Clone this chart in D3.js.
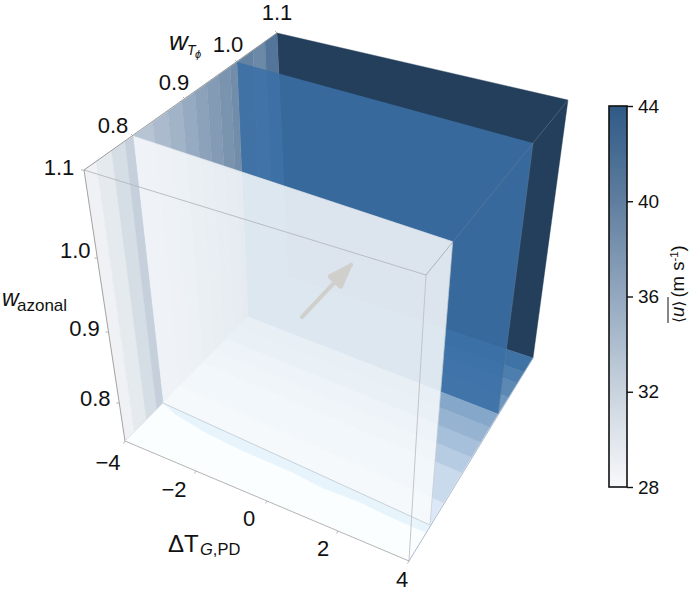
<!DOCTYPE html>
<html>
<head>
<meta charset="utf-8">
<script src="https://cdn.jsdelivr.net/npm/d3@7"></script>
<style>
    body { margin: 0; background: #fff; }
    svg { display: block; }
    text { font-family: "Liberation Sans", Arial, sans-serif; fill: #111; }
</style>
</head>
<body>
<div id="chart"></div>
<script>
// ticks
const xTicks = [-4, -2, 0, 2, 4];
const wTicks = [0.8, 0.9, 1.0, 1.1];
const zTicks = [0.8, 0.9, 1.0, 1.1];
const cbTicks = [28, 32, 36, 40, 44];

// plot box limits
const xDomain = [-4, 4];
const wDomain = [0.727, 1.1];
const zDomain = [0.75, 1.1];

// slices at constant w_Tphi: position and mean wind
const slabW = [1.1, 1.0, 0.8];
const slabU = [44, 41, 28];

// wall (x = -4), bands between slices: band edges in w_Tphi and mean wind
const wallEdgesBack = [1.0, 1.04, 1.07, 1.1];
const wallUBack = [39.6, 39.0, 41.0];
const wallEdgesMid = [0.8, 0.838, 0.867, 0.894, 0.919, 0.942, 0.965, 0.987, 1.0];
const wallUMid = [33.4, 34.2, 35.0, 35.8, 36.6, 37.2, 37.9, 38.6];
const wallEdgesFront = [0.727, 0.745, 0.768, 0.788, 0.8];
const wallUFront = [28.8, 29.6, 31.0, 32.3];

// floor (lowest w_azonal), same idea
const floorEdgesBack = [1.0, 1.03, 1.055, 1.075, 1.1];
const floorUBack = [37.8, 39.0, 40.0, 41.0];
const floorEdgesMid = [0.8, 0.84, 0.894, 0.922, 0.949, 0.976, 1.0];
const floorUMid = [30.3, 31.6, 32.9, 34.0, 35.1, 36.2];
const floorUFront = 28.1;

// pale wavy stripe on the floor just in front of the 0.8 slice
const stripeX = [-4, -3.5, -2.5, -1.5, 0, 1, 2, 3, 4];
const stripeW = [0.8, 0.792, 0.786, 0.784, 0.785, 0.782, 0.786, 0.784, 0.785];
const stripeU = 29;

// mean wind vector on the 0.8 slice (tail, tip)
const arrowX = [0.2, 1.49];
const arrowZ = [0.952, 1.038];

// box geometry as drawn on the page: corners of each w_Tphi section, and how
// the w_azonal axis is spaced up the left edge (0 floor, 1 top)
const sectionW = [0.727, 0.8, 1.0, 1.1];
const cornerTopLeft = [[84, 170], [133, 136], [237, 62], [277, 33]];
const cornerTopRight = [[426, 275], [452.7, 241.7], [533, 143], [568, 100]];
const cornerFloorLeft = [[125, 441], [163, 403], [248, 317], [288, 277]];
const cornerFloorRight = [[409, 561], [430, 525], [498, 414], [533, 358]];
const zStops = [0.75, 0.8, 0.9, 1.0, 1.1];
const zFractions = [0, 0.14, 0.402, 0.675, 1];

const width = 692;
const height = 592;

const xScale = d3.scaleLinear().domain(xDomain).range([0, 1]);
const zScale = d3.scaleLinear().domain(zStops).range(zFractions);
const topLeft = d3.scaleLinear().domain(sectionW).range(cornerTopLeft);
const topRight = d3.scaleLinear().domain(sectionW).range(cornerTopRight);
const floorLeft = d3.scaleLinear().domain(sectionW).range(cornerFloorLeft);
const floorRight = d3.scaleLinear().domain(sectionW).range(cornerFloorRight);

// colours, the box faces are lit differently so each has its own ramp
const cbColor = d3.scaleLinear().domain(cbTicks).range(["#f8f9fb", "#c9d3de", "#93a8bf", "#5f7e9f", "#2f5a86"]);
const floorColor = d3.scaleLinear().domain([28, 29, 30.3, 41]).range(["#fdffff", "#e8f4fc", "#dce8f7", "#3f73a5"]);
const slabColor = d3.scaleLinear().domain([28, 41, 44]).range(["#f9fbfd", "#3a70a6", "#233f5b"]);

function project(x, w, z) {
    const u = xScale(x), v = zScale(z);
    const tl = topLeft(w), tr = topRight(w), fl = floorLeft(w), fr = floorRight(w);
    return [0, 1].map(function(k) {
        const lower = fl[k] + (fr[k] - fl[k]) * u;
        const upper = tl[k] + (tr[k] - tl[k]) * u;
        return lower + (upper - lower) * v;
    });
}

const svg = d3.select("#chart").append("svg").attr("width", width).attr("height", height);
const plot = svg.append("g");
const line = d3.line();
const closed = function(pts) { return line(pts) + "Z"; };

const [x0, x1] = xDomain;
const [w0, w1] = wDomain;
const [z0, z1] = zDomain;

function face(pts, fill, opacity) {
    const p = plot.append("path").attr("d", closed(pts)).attr("fill", fill);
    if (opacity !== undefined) {
        p.attr("fill-opacity", opacity);
    } else {
        // hides the seams between neighbouring bands
        p.attr("stroke", fill).attr("stroke-width", 0.4);
    }
}

function wall_bands(edges, values) {
    values.forEach(function(u, i) {
        face([project(x0, edges[i], z0), project(x0, edges[i + 1], z0),
              project(x0, edges[i + 1], z1), project(x0, edges[i], z1)], cbColor(u));
    });
}

function floor_bands(edges, values) {
    values.forEach(function(u, i) {
        face([project(x0, edges[i], z0), project(x0, edges[i + 1], z0),
              project(x1, edges[i + 1], z0), project(x1, edges[i], z0)], floorColor(u));
    });
}

function slab(w, u, opacity) {
    face([project(x0, w, z0), project(x1, w, z0), project(x1, w, z1), project(x0, w, z1)], slabColor(u), opacity);
}

function edge(a, b, color, sw) {
    plot.append("path").attr("d", line([a, b])).attr("fill", "none")
        .attr("stroke", color).attr("stroke-width", sw);
}

// back to front
slab(slabW[0], slabU[0]);
wall_bands(wallEdgesBack, wallUBack);
floor_bands(floorEdgesBack, floorUBack);
slab(slabW[1], slabU[1], 0.86);
wall_bands(wallEdgesMid, wallUMid);
floor_bands(floorEdgesMid, floorUMid);
edge(project(x1, slabW[1], z0), project(x1, slabW[1], z1), "#5b7a99", 0.6);
slab(slabW[2], slabU[2], 0.85);
wall_bands(wallEdgesFront, wallUFront);
floor_bands([w0, slabW[2]], [floorUFront]);

// stripe in front of the 0.8 slice
const stripeLow = stripeX.map(function(x, i) { return project(x, stripeW[i], z0); });
const stripeHigh = stripeX.map(function(x) { return project(x, slabW[2], z0); }).reverse();
face(stripeLow.concat(stripeHigh), floorColor(stripeU));

// slice outlines
edge(project(x0, slabW[2], z0), project(x1, slabW[2], z0), "#b9c2ca", 0.7);
edge(project(x1, slabW[2], z0), project(x1, slabW[2], z1), "#c4c9ce", 0.7);
edge(project(x0, slabW[2], z1), project(x1, slabW[2], z1), "#e6e9ec", 0.7);

// box
edge(project(x0, w0, z1), project(x0, w1, z1), "#8f8f8f", 0.9);
edge(project(x0, w0, z1), project(x1, w0, z1), "#b4b8bc", 0.9);
edge(project(x0, w0, z1), project(x0, w0, z0), "#9a9a9a", 0.9);
edge(project(x0, w0, z0), project(x1, w0, z0), "#ababab", 0.9);
edge(project(x1, w0, z0), project(x1, w0, z1), "#c0c0c0", 0.9);
edge(project(x1, w0, z0), project(x1, w1, z0), "#9fb3c8", 0.9);
edge(project(x1, w0, z1), project(x1, w1, z1), "#6f8298", 0.5);
edge(project(x0, w0, z0), project(x0, slabW[2], z0), "#d5d9dd", 0.7);

// ticks on the labelled edges
xTicks.forEach(function(x) {
    const p = project(x, w0, z0);
    edge(p, [p[0] - 1.5, p[1] + 2.5], "#9a9a9a", 0.7);
});
zTicks.forEach(function(z) {
    const p = project(x0, w0, z);
    edge(p, [p[0] - 3, p[1]], "#9a9a9a", 0.7);
});
wTicks.forEach(function(w) {
    const p = project(x0, w, z1);
    edge(p, [p[0] - 2, p[1] - 2], "#9a9a9a", 0.7);
});

// arrow
const tail = project(arrowX[0], slabW[2], arrowZ[0]);
const tip = project(arrowX[1], slabW[2], arrowZ[1]);
const arrowLen = Math.hypot(tip[0] - tail[0], tip[1] - tail[1]);
const ux = (tip[0] - tail[0]) / arrowLen;
const uy = (tip[1] - tail[1]) / arrowLen;
const headLen = 23;
const headHalf = 7;
const base = [tip[0] - ux * headLen, tip[1] - uy * headLen];
plot.append("path").attr("d", line([tail, tip])).attr("fill", "none")
    .attr("stroke", "#d0cfcc").attr("stroke-width", 4).attr("stroke-linecap", "round");
plot.append("path")
    .attr("d", closed([[tip[0] - ux * 3, tip[1] - uy * 3],
        [base[0] - uy * headHalf, base[1] + ux * headHalf],
        [base[0] + uy * headHalf, base[1] - ux * headHalf]]))
    .attr("fill", "#d0cfcc").attr("stroke", "#d0cfcc")
    .attr("stroke-width", 5).attr("stroke-linejoin", "round");

// tick labels, placed off the box edges
const tickSize = 22;
function tick_label(p, dx, dy, label) {
    svg.append("text").attr("x", p[0] + dx).attr("y", p[1] + dy)
        .attr("text-anchor", "middle").attr("dy", "0.36em")
        .style("font-size", tickSize + "px").text(label);
}
const minus = function(v) { return d3.format("d")(v).replace("-", "\u2212"); };
const xDx = d3.scaleLinear().domain(xTicks).range([-17, -22, -18, -15, -7]);
const xDy = d3.scaleLinear().domain(xTicks).range([21, 18, 17, 17, 18]);
const wDx = d3.scaleLinear().domain(wTicks).range([-20, -11, -9, 0]);
const wDy = d3.scaleLinear().domain(wTicks).range([-11, -17, -18, -21]);
const zDx = d3.scaleLinear().domain(zTicks).range([-24, -24, -22, -25]);
const zDy = d3.scaleLinear().domain(zTicks).range([-5, -4, -8, -3]);
xTicks.forEach(function(x) { tick_label(project(x, w0, z0), xDx(x), xDy(x), minus(x)); });
wTicks.forEach(function(w) { tick_label(project(x0, w, z1), wDx(w), wDy(w), d3.format(".1f")(w)); });
zTicks.forEach(function(z) { tick_label(project(x0, w0, z), zDx(z), zDy(z), d3.format(".1f")(z)); });

// axis titles
const wTitle = svg.append("g");
wTitle.append("text").attr("x", 169).attr("y", 50).style("font-size", "26px").style("font-style", "italic").text("w");
wTitle.append("text").attr("x", 187).attr("y", 55).style("font-size", "14px").style("font-style", "italic").text("T");
wTitle.append("text").attr("x", 195).attr("y", 58).style("font-size", "11px").style("font-style", "italic").text("\u03d5");

const zTitle = svg.append("g");
zTitle.append("text").attr("x", 2).attr("y", 306).style("font-size", "23px").style("font-style", "italic").text("w");
zTitle.append("text").attr("x", 17).attr("y", 311).style("font-size", "17px").text("azonal");

const xTitle = svg.append("text").attr("x", 168).attr("y", 552).style("font-size", "24px");
xTitle.append("tspan").text("\u0394T");
xTitle.append("tspan").attr("x", 200).attr("dy", 3).style("font-size", "16.5px").style("font-style", "italic").text("G");
xTitle.append("tspan").style("font-size", "16.5px").text(",PD");

// colour bar
const cbX = 609;
const cbW = 18;
const cbY = d3.scaleLinear().domain([28, 44]).range([487, 106]);
const grad = svg.append("defs").append("linearGradient").attr("id", "cb")
    .attr("x1", 0).attr("y1", 1).attr("x2", 0).attr("y2", 0);
cbTicks.forEach(function(t, i) {
    grad.append("stop").attr("offset", i / (cbTicks.length - 1)).attr("stop-color", cbColor(t));
});
svg.append("rect").attr("x", cbX).attr("y", cbY(44)).attr("width", cbW).attr("height", cbY(28) - cbY(44))
    .attr("fill", "url(#cb)").attr("stroke", "#111").attr("stroke-width", 1.6);
const cbAxis = svg.append("g").attr("transform", "translate(" + (cbX + cbW) + ",0)")
    .call(d3.axisRight(cbY).tickValues(cbTicks).tickSize(6).tickPadding(5));
cbAxis.select(".domain").remove();
cbAxis.selectAll("line").attr("stroke", "#111").attr("stroke-width", 1.4);
cbAxis.selectAll("text").style("font-size", "19px").style("font-family", "\"Liberation Sans\", Arial, sans-serif").attr("fill", "#111");

// colour bar title, rotated
const cbTitle = svg.append("g").attr("transform", "translate(684,323) rotate(-90)");
const cbText = cbTitle.append("text").attr("x", 0).attr("y", 0).style("font-size", "18.5px");
cbText.append("tspan").style("font-family", "\"DejaVu Sans\"").style("font-size", "15.5px").text("\u27e8");
cbText.append("tspan").style("font-style", "italic").text("u");
cbText.append("tspan").style("font-family", "\"DejaVu Sans\"").style("font-size", "15.5px").text("\u27e9");
cbText.append("tspan").attr("dx", 3).text("(m s");
cbText.append("tspan").attr("dy", -6).style("font-size", "11.5px").text("-1");
cbText.append("tspan").attr("dy", 6).text(")");
cbTitle.append("line").attr("x1", 0).attr("x2", 26).attr("y1", -16).attr("y2", -16)
    .attr("stroke", "#111").attr("stroke-width", 1);
</script>
</body>
</html>
